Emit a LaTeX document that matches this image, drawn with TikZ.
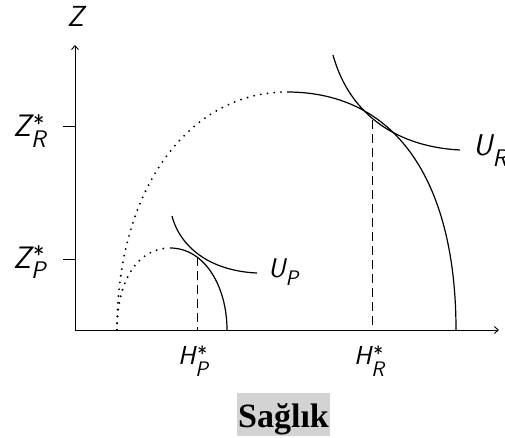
\documentclass[tikz,border=0pt]{standalone}
\usepackage{fontspec}
\setmainfont{Liberation Serif}
\usetikzlibrary{arrows.meta}
% #1 main letter, #2 subscript, #3 main size, #4 sub size, #5 star raise, #6 sub lower
\newcommand{\slab}[6]{{\fontsize{#3}{#3}\selectfont\sffamily\itshape #1}%
  \rlap{\kern2pt\raisebox{#5}{\fontsize{#4}{#4}\selectfont\sffamily *}}%
  \raisebox{-#6}{\fontsize{#4}{#4}\selectfont\sffamily\itshape #2}}
\newcommand{\ulab}[5]{{\fontsize{#3}{#3}\selectfont\sffamily\itshape #1}%
  \raisebox{-#5}{\fontsize{#4}{#4}\selectfont\sffamily\itshape #2}}
\begin{document}
\begin{tikzpicture}[x=1pt,y=1pt,
  axis/.style={line width=0.9pt,-{Straight Barb[length=4pt,width=7pt]}},
  curve/.style={line width=1.2pt},
  dotcurve/.style={line width=2.1pt,line cap=round,dash pattern=on 0pt off 6.8pt},
  dashline/.style={line width=1pt,dash pattern=on 9pt off 5pt},
  tick/.style={line width=0.9pt},
  lbl/.style={inner sep=0pt,anchor=base west}]
\useasboundingbox (0,0) rectangle (505,437);
% coordinates
\coordinate (O) at (75,107);
\coordinate (ytop) at (75,392);
\coordinate (xend) at (499,107);
\coordinate (start) at (117,107);
\coordinate (bpeak) at (287,345);
\coordinate (bend) at (456,107);
\coordinate (tR) at (372,317);
\coordinate (tRb) at (372,107);
\coordinate (speak) at (170,189);
\coordinate (send) at (227,107);
\coordinate (tP) at (197,180);
\coordinate (tPb) at (197,107);
\coordinate (uRs) at (333,382);
\coordinate (uRe) at (460,287);
\coordinate (uPs) at (172,221);
\coordinate (uPe) at (257,164);
\coordinate (zRt) at (63,311);
\coordinate (zRa) at (75,311);
\coordinate (zPt) at (63,178);
\coordinate (zPa) at (75,178);
% axes
\draw[axis] (O) -- (ytop);
\draw[axis] (O) -- (xend);
\draw[tick] (zRt) -- (zRa);
\draw[tick] (zPt) -- (zPa);
% big frontier
\draw[dotcurve] (start) .. controls (117,250) and (190,345) .. (bpeak);
\draw[curve] (bpeak) .. controls (400,345) and (456,250) .. (bend);
% small frontier
\draw[dotcurve] (start) .. controls (117,160) and (140,189) .. (speak);
\draw[curve] (speak) .. controls (205,189) and (227,150) .. (send);
% indifference curves
\draw[curve] (uRs) .. controls (350,320) and (400,290) .. (uRe);
\draw[curve] (uPs) .. controls (180,190) and (210,166) .. (uPe);
% dashed
\draw[dashline] (tR) -- (tRb);
\draw[dashline] (tP) -- (tPb);
% labels
\node[lbl] (Zlab) at (67,410) {\fontsize{29}{29}\selectfont\sffamily\itshape Z};
\node[lbl] (ZR) at (13,300) {\slab{Z}{R}{31}{24}{5pt}{10pt}};
\node[lbl] (ZP) at (13,169) {\slab{Z}{P}{31}{24}{5pt}{10pt}};
\node[lbl] (HP) at (178,73) {\slab{H}{P}{26}{21}{3pt}{12pt}};
\node[lbl] (HR) at (354,73) {\slab{H}{R}{26}{21}{3pt}{12pt}};
\node[lbl] (UR) at (473,282) {\ulab{U}{R}{30}{24}{11pt}};
\node[lbl] (UP) at (268,160) {\ulab{U}{P}{27}{21}{8pt}};
\node[fill={rgb,255:red,211;green,211;blue,211},inner xsep=1pt,inner ysep=0pt,
  text height=34pt,text depth=9pt,anchor=base,
  font=\fontsize{34}{40}\selectfont\bfseries] (title) at (283.5,10) {Sağlık};
\end{tikzpicture}
\end{document}
